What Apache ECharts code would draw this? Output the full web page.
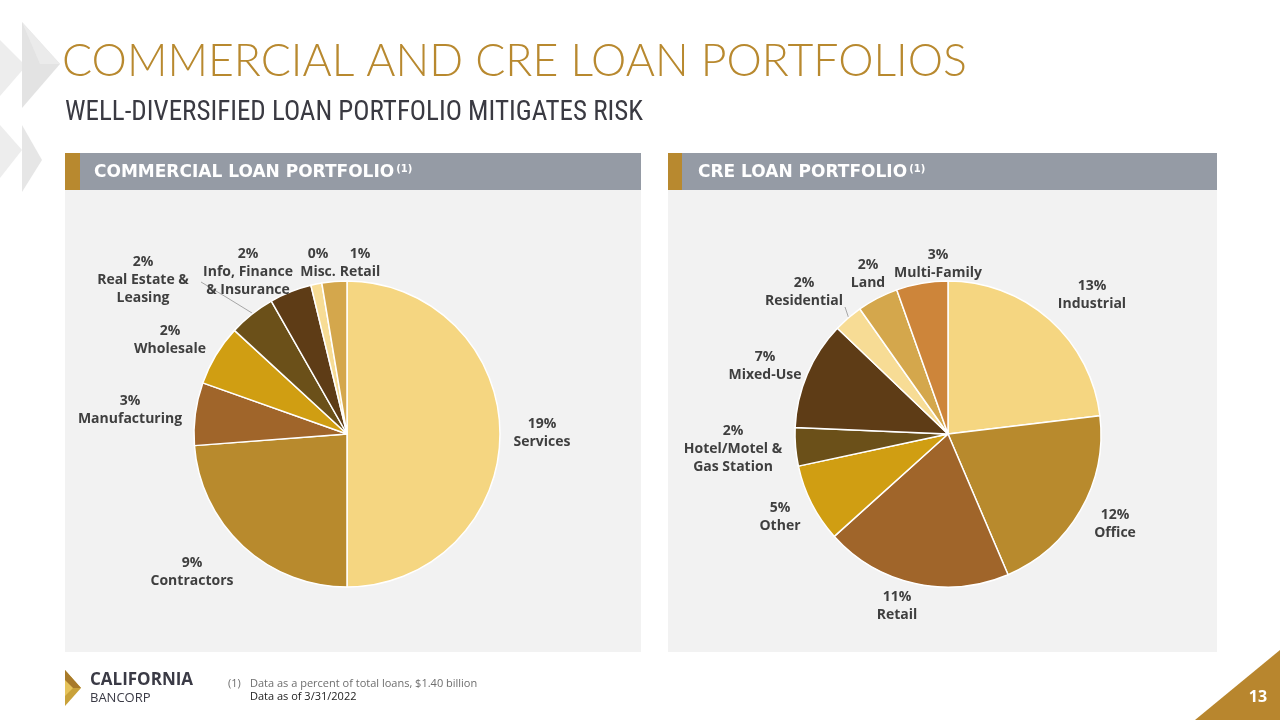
<!DOCTYPE html>
<html>
<head>
<meta charset="utf-8">
<script src="https://cdn.jsdelivr.net/npm/echarts@6/dist/echarts.min.js"></script>
<style>
html,body{margin:0;padding:0;background:#fff;}
#chart{width:1280px;height:720px;}
</style>
</head>
<body>
<div id="chart"></div>
<script>
// ---- Data ----
const commercialCategories = ['Services', 'Contractors', 'Manufacturing', 'Wholesale', 'Real Estate &\nLeasing', 'Info, Finance\n& Insurance', 'Misc.', 'Retail'];
const commercialValues = [19.0, 9.04, 2.52, 2.44, 1.87, 1.69, 0.44, 1.00];
const commercialLabels = ['19%', '9%', '3%', '2%', '2%', '2%', '0%', '1%'];

const creCategories = ['Industrial', 'Office', 'Retail', 'Other', 'Hotel/Motel &\nGas Station', 'Mixed-Use', 'Residential', 'Land', 'Multi-Family'];
const creValues = [13.16, 11.68, 11.26, 4.73, 2.30, 6.54, 1.76, 2.47, 3.10];
const creLabels = ['13%', '12%', '11%', '5%', '2%', '7%', '2%', '2%', '3%'];

// ---- Styles / layout ----
const commercialColors = ['#F5D681', '#B88A2D', '#A0652A', '#D09E12', '#6B5019', '#5E3C16', '#F7DC95', '#D4A74C'];
const creColors = ['#F5D681', '#B88A2D', '#A0652A', '#D09E12', '#6B5019', '#5E3C16', '#F7DC95', '#D4A74C', '#CD853A'];
const commercialLabelPos = [[542,433],[192,572],[130,410],[170,340],[143,280],[248,272],[318,263],[360,263]];
const creLabelPos = [[1092,295],[1115,524],[897,606],[780,517],[733,449],[765,366],[804,292],[868,274],[938,264]];
const commercialLeader = {4: [[201,282],[226,297],[252,313]]};
const creLeader = {6: [[845,307],[847,313],[849,319]]};

const gold = '#B8892F';
const labelFont = {fontFamily: 'Open Sans', fontWeight: 'bold', fontSize: 14, color: '#3F3F3F', lineHeight: 18};

function buildData(cats, vals, colors, leaders) {
  return cats.map((c, i) => ({
    name: c, value: vals[i],
    itemStyle: {color: colors[i]},
    labelLine: {show: !!leaders[i], lineStyle: {color: '#A6A6A6', width: 1}}
  }));
}

function pieSeries(cats, vals, pcts, colors, center, labelPos, leaders) {
  return {
    type: 'pie',
    center: center,
    radius: [0, 153],
    startAngle: 90,
    clockwise: true,
    avoidLabelOverlap: false,
    silent: true,
    z: 5,
    itemStyle: {borderColor: '#FFFFFF', borderWidth: 1.5},
    label: Object.assign({
      show: true, position: 'outside',
      formatter: p => pcts[p.dataIndex] + '\n' + p.name,
      align: 'center'
    }, labelFont),
    labelLine: {show: false},
    labelLayout: function (params) {
      const pos = labelPos[params.dataIndex];
      const r = {x: pos[0], y: pos[1], align: 'center', verticalAlign: 'middle'};
      if (leaders[params.dataIndex]) r.labelLinePoints = leaders[params.dataIndex];
      return r;
    },
    data: buildData(cats, vals, colors, leaders)
  };
}

const chart = echarts.init(document.getElementById('chart'), null, {renderer: 'canvas'});

const headerRich = {
  a: {fontFamily: 'DejaVu Sans', fontWeight: 'bold', fontSize: 17, fill: '#FFFFFF', color: '#FFFFFF'},
  s: {fontFamily: 'DejaVu Sans', fontWeight: 'bold', fontSize: 10, fill: '#FFFFFF', color: '#FFFFFF', verticalAlign: 'top', padding: [0,0,8,2]}
};

const graphics = [
  // decorative chevrons
  {type: 'polygon', shape: {points: [[0,40],[26,66],[0,96]]}, style: {fill: '#EDEDED'}},
  {type: 'polygon', shape: {points: [[22,22],[60,64],[22,108]]}, style: {fill: '#E3E3E3'}},
  {type: 'polygon', shape: {points: [[22,22],[60,64],[40,64]]}, style: {fill: '#EBEBEB'}},
  {type: 'polygon', shape: {points: [[0,125],[22,150],[0,178]]}, style: {fill: '#EDEDED'}},
  {type: 'polygon', shape: {points: [[22,125],[42,160],[22,192]]}, style: {fill: '#E6E6E6'}},
  // title
  {type: 'text', x: 62, y: 62, style: {text: 'COMMERCIAL AND CRE LOAN PORTFOLIOS', fill: gold, font: '300 44.6px Lato', textVerticalAlign: 'middle'}},
  {type: 'text', x: 65, y: 113, style: {text: 'WELL-DIVERSIFIED LOAN PORTFOLIO MITIGATES RISK', fill: '#3A3A42', font: '27px "Liberation Sans Narrow", "Roboto Condensed", Roboto', textVerticalAlign: 'middle'}},
  // panels
  {type: 'rect', shape: {x: 65, y: 190, width: 576, height: 462}, style: {fill: '#F2F2F2'}},
  {type: 'rect', shape: {x: 668, y: 190, width: 549, height: 462}, style: {fill: '#F2F2F2'}},
  {type: 'rect', shape: {x: 65, y: 153, width: 576, height: 37}, style: {fill: '#959BA5'}},
  {type: 'rect', shape: {x: 668, y: 153, width: 549, height: 37}, style: {fill: '#959BA5'}},
  {type: 'rect', shape: {x: 65, y: 153, width: 15, height: 37}, style: {fill: gold}},
  {type: 'rect', shape: {x: 668, y: 153, width: 14, height: 37}, style: {fill: gold}},
  {type: 'text', x: 94, y: 173, style: {text: '{a|COMMERCIAL LOAN PORTFOLIO}{s|(1)}', fill: '#FFFFFF', textVerticalAlign: 'middle', rich: headerRich}},
  {type: 'text', x: 698, y: 173, style: {text: '{a|CRE LOAN PORTFOLIO}{s|(1)}', fill: '#FFFFFF', textVerticalAlign: 'middle', rich: headerRich}},
  // footer logo
  {type: 'polygon', shape: {points: [[65,670],[81,688],[65,706]]}, style: {fill: '#C9A23A'}},
  {type: 'polygon', shape: {points: [[65,670],[81,688],[65,688]]}, style: {fill: '#A87A2A'}},
  {type: 'polygon', shape: {points: [[65,680],[73,688],[65,696]]}, style: {fill: '#E6C35A'}},
  {type: 'text', x: 90, y: 680, style: {text: 'CALIFORNIA', fill: '#3A3A45', font: 'bold 17px "Open Sans"', textVerticalAlign: 'middle'}},
  {type: 'text', x: 90, y: 698, style: {text: 'BANCORP', fill: '#3A3A45', font: '13px "Open Sans"', textVerticalAlign: 'middle'}},
  {type: 'text', x: 228, y: 684, style: {text: '(1)', fill: '#6E6E6E', font: '11px "Open Sans"', textVerticalAlign: 'middle'}},
  {type: 'text', x: 250, y: 684, style: {text: 'Data as a percent of total loans, $1.40 billion', fill: '#6E6E6E', font: '11px "Open Sans"', textVerticalAlign: 'middle'}},
  {type: 'text', x: 250, y: 697, style: {text: 'Data as of 3/31/2022', fill: '#222222', font: '11px "Open Sans"', textVerticalAlign: 'middle'}},
  // page number
  {type: 'polygon', shape: {points: [[1195,720],[1280,650],[1280,720]]}, style: {fill: '#B8862E'}},
  {type: 'text', x: 1258, y: 697, style: {text: '13', fill: '#FFFFFF', font: 'bold 16px "Open Sans"', textAlign: 'center', textVerticalAlign: 'middle'}}
];

chart.setOption({
  backgroundColor: '#FFFFFF',
  animation: false,
  graphic: {elements: graphics},
  series: [
    pieSeries(commercialCategories, commercialValues, commercialLabels, commercialColors, [347, 434], commercialLabelPos, commercialLeader),
    pieSeries(creCategories, creValues, creLabels, creColors, [948, 434], creLabelPos, creLeader)
  ]
});
</script>
</body>
</html>
